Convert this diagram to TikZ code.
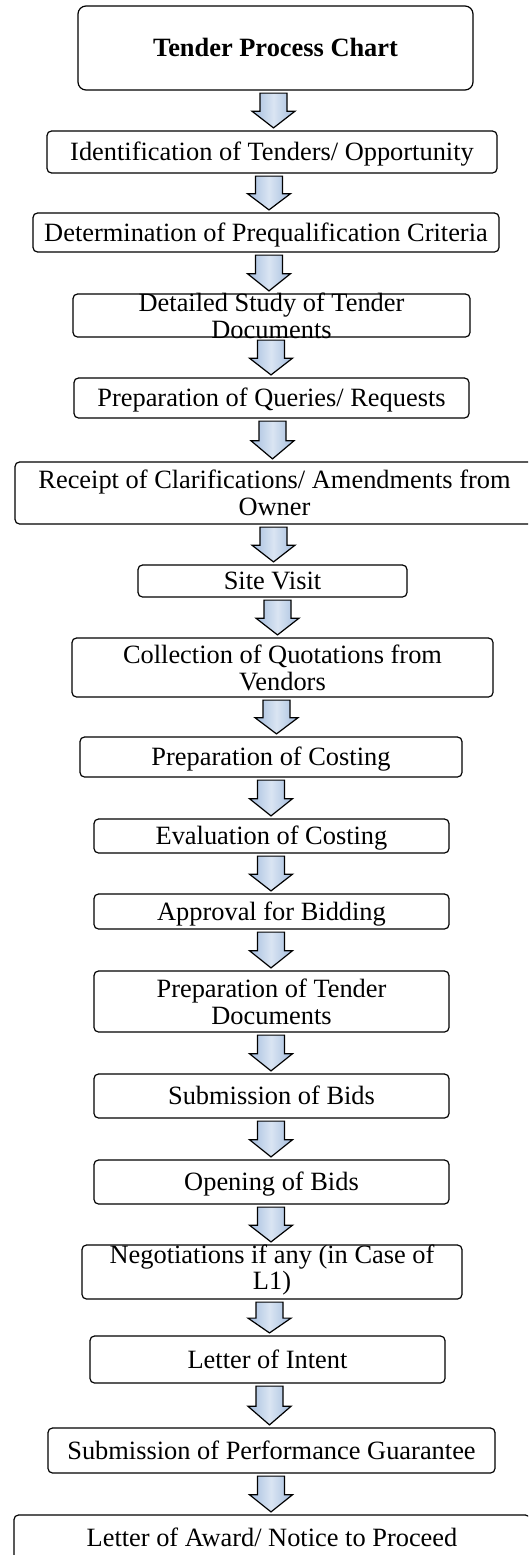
\documentclass[tikz,border=0pt]{standalone}
\usepackage{fontspec}
\setmainfont{Liberation Serif}
\usetikzlibrary{calc}
\definecolor{arrmid}{HTML}{A3BCDD}
\definecolor{arrlight}{HTML}{DAE5F3}
\newcommand\flowarrow[3]{%
  \coordinate (a0) at (#3,0 |- #1.south);
  \coordinate (a1) at (#3,0 |- #2.north);
  \coordinate (at) at ([yshift=-2.5pt]a0);
  \coordinate (ab) at ([yshift=2.5pt]a1);
  \coordinate (ah) at ($(at)!0.52!(ab)$);
  \path[flowarr] ([xshift=-13.5pt]at) -- ([xshift=13.5pt]at) -- ([xshift=13.5pt]ah)
     -- ([xshift=21.5pt]ah) -- (ab) -- ([xshift=-21.5pt]ah) -- ([xshift=-13.5pt]ah) -- cycle;
}
\begin{document}
\begin{tikzpicture}[x=1pt,y=-1pt,
  stepbox/.style={draw=black, line width=1.2pt, rounded corners=4.5pt, inner sep=0pt},
  titlebox/.style={stepbox, rounded corners=8pt},
  txt/.style={font=\fontsize{26.4}{26.8}\selectfont, inner sep=0pt, text height=18.2pt, text depth=0.8pt},
  txtm/.style={font=\fontsize{26.4}{26.8}\selectfont, inner sep=0pt, align=center},
  ttl/.style={font=\bfseries\fontsize{26.4}{26.8}\selectfont, inner sep=0pt, text height=18.2pt, text depth=0.8pt},
  flowarr/.style={draw=black, line width=1.2pt, line join=miter, left color=arrmid, right color=arrmid, middle color=arrlight}
]
\useasboundingbox (0,0) rectangle (528,1555);
\fill[white] (0,0) rectangle (528,1555);
\clip (0,0) rectangle (528,1555);

\node[titlebox, minimum width=395pt, minimum height=84pt] (b1) at (275.5,48) {};
\node[ttl] (t1) at (b1.center) {Tender Process Chart};

\node[stepbox, minimum width=450pt, minimum height=42pt] (b2) at (272,152) {};
\node[txt] (t2) at (b2.center) {Identification of Tenders/ Opportunity};

\node[stepbox, minimum width=466pt, minimum height=39pt] (b3) at (266,232.5) {};
\node[txt] (t3) at (b3.center) {Determination of Prequalification Criteria};

\node[stepbox, minimum width=397pt, minimum height=43pt] (b4) at (271.5,315.5) {};
\node[txtm] (t4) at (b4.center) {Detailed Study of Tender\\Documents};

\node[stepbox, minimum width=395pt, minimum height=40pt] (b5) at (271.5,398) {};
\node[txt] (t5) at (b5.center) {Preparation of Queries/ Requests};

\node[stepbox, minimum width=519pt, minimum height=62pt] (b6) at (274.5,493) {};
\node[txtm] (t6) at (b6.center) {Receipt of Clarifications/ Amendments from\\Owner};

\node[stepbox, minimum width=269pt, minimum height=32pt] (b7) at (272.5,581) {};
\node[txt] (t7) at (b7.center) {Site Visit};

\node[stepbox, minimum width=421pt, minimum height=59pt] (b8) at (282.5,667.5) {};
\node[txtm] (t8) at (b8.center) {Collection of Quotations from\\Vendors};

\node[stepbox, minimum width=382pt, minimum height=40pt] (b9) at (271,757) {};
\node[txt] (t9) at (b9.center) {Preparation of Costing};

\node[stepbox, minimum width=355pt, minimum height=34pt] (b10) at (271.5,836) {};
\node[txt] (t10) at (b10.center) {Evaluation of Costing};

\node[stepbox, minimum width=355pt, minimum height=35pt] (b11) at (271.5,911.5) {};
\node[txt] (t11) at (b11.center) {Approval for Bidding};

\node[stepbox, minimum width=355pt, minimum height=61pt] (b12) at (271.5,1001.5) {};
\node[txtm] (t12) at (b12.center) {Preparation of Tender\\Documents};

\node[stepbox, minimum width=355pt, minimum height=44pt] (b13) at (271.5,1096) {};
\node[txt] (t13) at (b13.center) {Submission of Bids};

\node[stepbox, minimum width=355pt, minimum height=44pt] (b14) at (271.5,1182) {};
\node[txt] (t14) at (b14.center) {Opening of Bids};

\node[stepbox, minimum width=380pt, minimum height=54pt] (b15) at (272,1272) {};
\node[txtm] (t15) at ([yshift=2pt]b15.center) {Negotiations if any (in Case of\\L1)};

\node[stepbox, minimum width=355pt, minimum height=47pt] (b16) at (267.5,1359.5) {};
\node[txt] (t16) at (b16.center) {Letter of Intent};

\node[stepbox, minimum width=447pt, minimum height=45pt] (b17) at (271.5,1450.5) {};
\node[txt] (t17) at (b17.center) {Submission of Performance Guarantee};

\node[stepbox, minimum width=516pt, minimum height=46pt] (b18) at (272,1538) {};
\node[txt] (t18) at (b18.center) {Letter of Award/ Notice to Proceed};

\flowarrow{b1}{b2}{273.5}
\flowarrow{b2}{b3}{269}
\flowarrow{b3}{b4}{269}
\flowarrow{b4}{b5}{271}
\flowarrow{b5}{b6}{272.5}
\flowarrow{b6}{b7}{273.5}
\flowarrow{b7}{b8}{277.5}
\flowarrow{b8}{b9}{276.5}
\flowarrow{b9}{b10}{271}
\flowarrow{b10}{b11}{271}
\flowarrow{b11}{b12}{271}
\flowarrow{b12}{b13}{271}
\flowarrow{b13}{b14}{271}
\flowarrow{b14}{b15}{271}
\flowarrow{b15}{b16}{269.5}
\flowarrow{b16}{b17}{269.5}
\flowarrow{b17}{b18}{271}
\end{tikzpicture}
\end{document}
